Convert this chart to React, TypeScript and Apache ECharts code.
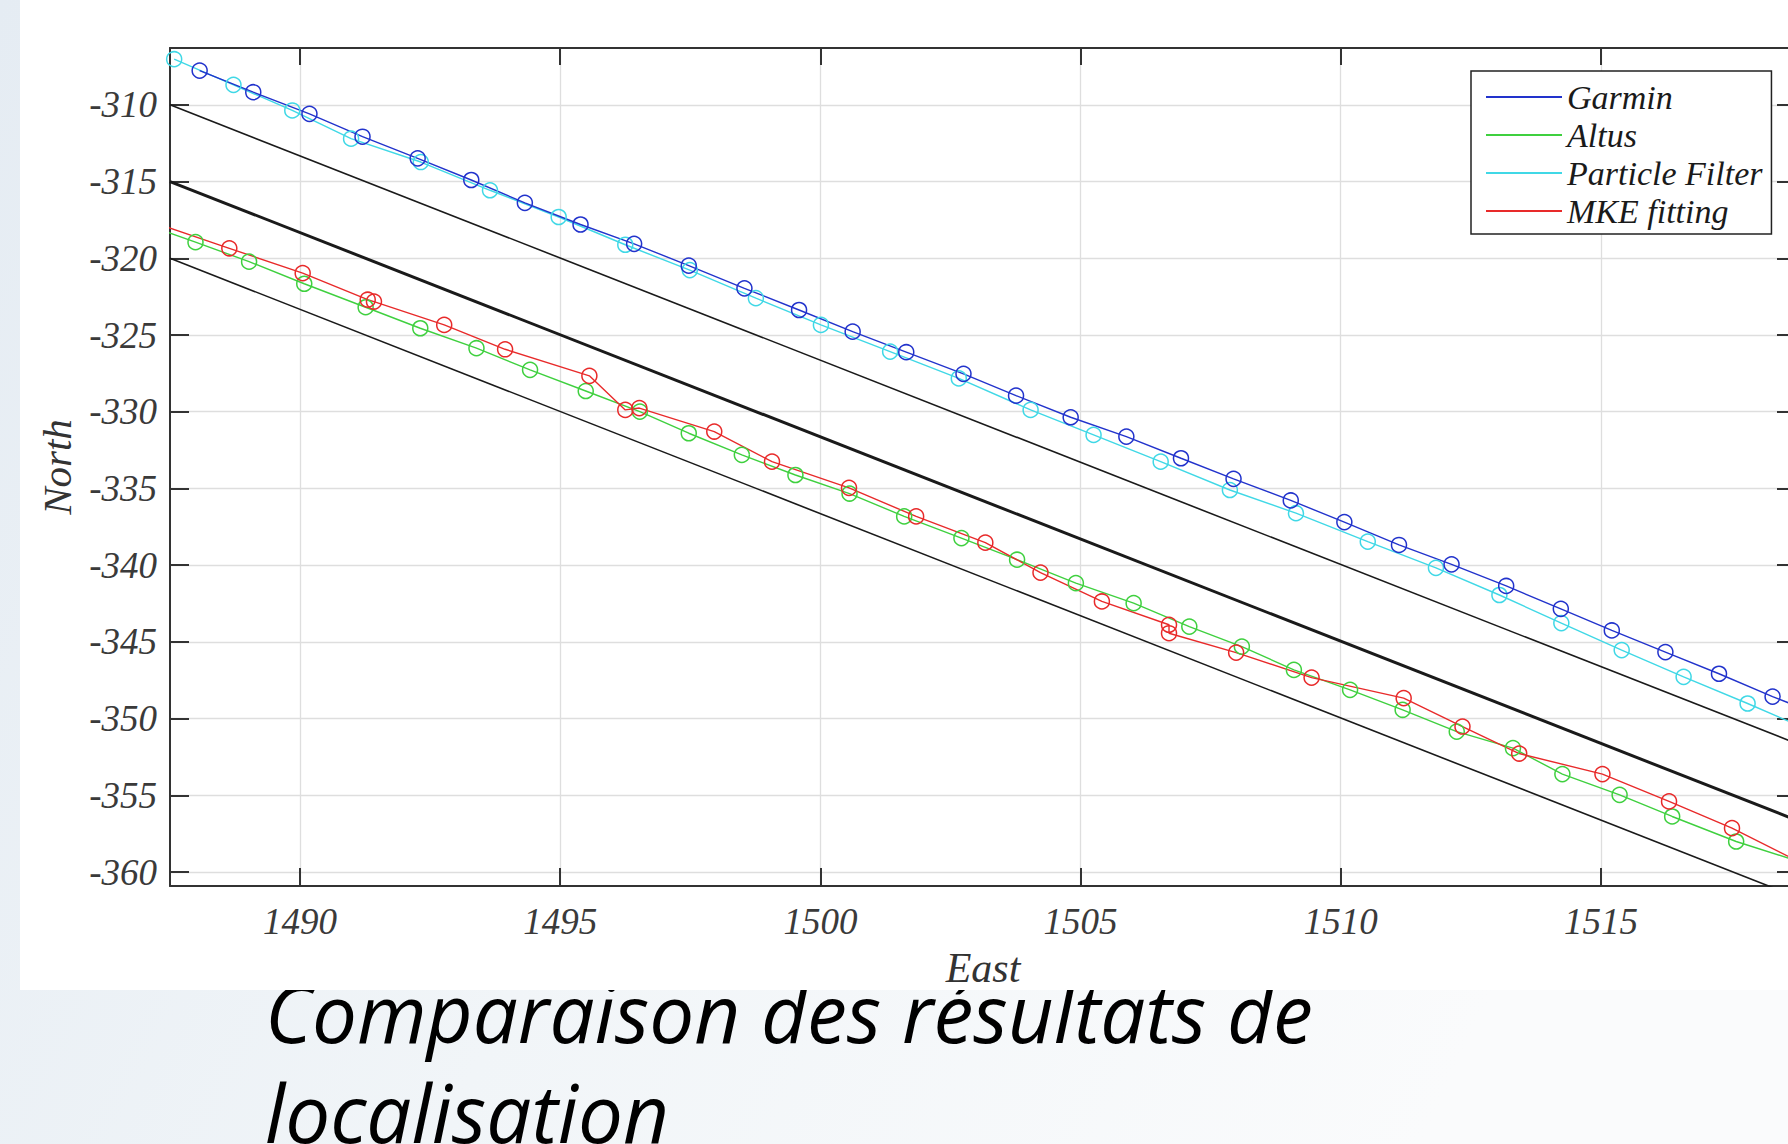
import { useEffect, useRef } from 'react';
import * as echarts from 'echarts';

// ---------- axis ticks / ranges ----------
const xTicks = [1490, 1495, 1500, 1505, 1510, 1515];
const yTicks = [-360, -355, -350, -345, -340, -335, -330, -325, -320, -315, -310];
const xMin = 1487.5;
const xMax = 1518.75;
const yMin = -360.9;
const yMax = -306.3;

// ---------- series (East / North) ----------
const garminEast = [1488.07, 1489.10, 1490.18, 1491.20, 1492.26, 1493.29, 1494.32, 1495.39, 1496.42, 1497.47, 1498.54, 1499.59, 1500.62, 1501.65, 1502.75, 1503.76, 1504.81, 1505.88, 1506.93, 1507.94, 1509.04, 1510.07, 1511.12, 1512.13, 1513.18, 1514.23, 1515.21, 1516.24, 1517.27, 1518.30, 1519.35];
const garminNorth = [-307.77, -309.18, -310.59, -312.08, -313.49, -314.90, -316.39, -317.80, -319.06, -320.48, -321.96, -323.37, -324.78, -326.12, -327.53, -328.95, -330.36, -331.62, -333.03, -334.37, -335.78, -337.19, -338.68, -339.94, -341.35, -342.84, -344.25, -345.66, -347.07, -348.56, -349.95];

const altusEast = [1486.95, 1487.99, 1489.02, 1490.08, 1491.26, 1492.31, 1493.39, 1494.42, 1495.49, 1496.53, 1497.47, 1498.49, 1499.52, 1500.56, 1501.61, 1502.71, 1503.78, 1504.91, 1506.02, 1507.09, 1508.10, 1509.10, 1510.18, 1511.19, 1512.23, 1513.31, 1514.26, 1515.36, 1516.37, 1517.60, 1518.85];
const altusNorth = [-317.69, -318.95, -320.22, -321.66, -323.19, -324.56, -325.86, -327.27, -328.65, -329.99, -331.40, -332.81, -334.12, -335.33, -336.82, -338.23, -339.64, -341.17, -342.47, -344.00, -345.30, -346.82, -348.12, -349.42, -350.84, -351.92, -353.61, -354.96, -356.37, -358.00, -359.35];

const pfEast = [1487.58, 1488.72, 1489.85, 1490.98, 1492.32, 1493.65, 1494.97, 1496.25, 1497.49, 1498.76, 1500.01, 1501.34, 1502.66, 1504.04, 1505.25, 1506.54, 1507.87, 1509.14, 1510.52, 1511.83, 1513.05, 1514.24, 1515.40, 1516.59, 1517.82, 1519.00];
const pfNorth = [-307.03, -308.70, -310.37, -312.21, -313.73, -315.57, -317.31, -319.12, -320.77, -322.60, -324.34, -326.08, -327.83, -329.88, -331.51, -333.25, -335.10, -336.61, -338.46, -340.17, -341.94, -343.77, -345.53, -347.27, -349.01, -350.75];

const mkeEast = [1487.30, 1488.64, 1490.05, 1491.30, 1491.42, 1492.77, 1493.94, 1495.56, 1496.25, 1496.52, 1497.96, 1499.07, 1500.55, 1501.84, 1503.17, 1504.23, 1505.41, 1506.70, 1506.70, 1507.99, 1509.44, 1511.21, 1512.34, 1513.43, 1515.03, 1516.31, 1517.52, 1518.85];
const mkeNorth = [-317.80, -319.35, -320.97, -322.70, -322.82, -324.34, -325.93, -327.66, -329.88, -329.76, -331.29, -333.25, -334.96, -336.82, -338.53, -340.48, -342.36, -343.88, -344.43, -345.69, -347.32, -348.66, -350.51, -352.27, -353.61, -355.39, -357.13, -359.40];

// reference lane lines (black)
const laneEast = [1487.5, 1518.75];
const laneUpperNorth = [-310.0, -351.6];
const laneCenterNorth = [-315.0, -356.6];
const laneLowerNorth = [-320.0, -361.6];

const seriesNames = ['Garmin', 'Altus', 'Particle Filter', 'MKE fitting'];
const seriesColors = ['#2233cc', '#3fd03f', '#40d8e6', '#e82a2a'];

const titleLines = ['Comparaison des résultats de', 'localisation'];

const SERIF = '"Liberation Serif", "Times New Roman", serif';
const SANS = '"Open Sans", "Noto Sans", sans-serif';

function fitFontSize(text: string, family: string, target: number): number {
  const ctx = document.createElement('canvas').getContext('2d');
  if (!ctx) return 80;
  ctx.font = `italic 100px ${family}`;
  const w = ctx.measureText(text).width;
  return w > 0 ? (100 * target) / w : 80;
}

const pairs = (e: number[], n: number[]) => e.map((v, i) => [v, n[i]]);

export default function App() {
  const ref = useRef<HTMLDivElement>(null);

  useEffect(() => {
    if (!ref.current) return;
    const chart = echarts.init(ref.current, null, { renderer: 'svg' });

    const titleSize = fitFontSize(titleLines[0], SANS, 1048);
    const central = 0.388 * titleSize;

    const labelStyle = {
      fontFamily: SERIF,
      fontStyle: 'italic',
      fontSize: 37,
      color: '#3a3a3a',
    };
    const axisLine = { show: true, lineStyle: { color: '#333', width: 2 } };
    const tickStyle = { color: '#333', width: 2 };

    const dataSeries = [
      { name: seriesNames[2], e: pfEast, n: pfNorth, c: seriesColors[2] },
      { name: seriesNames[0], e: garminEast, n: garminNorth, c: seriesColors[0] },
      { name: seriesNames[1], e: altusEast, n: altusNorth, c: seriesColors[1] },
      { name: seriesNames[3], e: mkeEast, n: mkeNorth, c: seriesColors[3] },
    ].map((s) => ({
      name: s.name,
      type: 'line',
      data: pairs(s.e, s.n),
      symbol: 'circle',
      symbolSize: 15,
      showSymbol: true,
      clip: true,
      lineStyle: { color: s.c, width: 1.4 },
      itemStyle: { color: 'rgba(0,0,0,0)', borderColor: s.c, borderWidth: 1.5 },
      emphasis: { disabled: true },
      silent: true,
      z: 3,
    }));

    const lanes = [
      { name: 'laneUpper', n: laneUpperNorth, w: 1.6 },
      { name: 'laneCenter', n: laneCenterNorth, w: 3 },
      { name: 'laneLower', n: laneLowerNorth, w: 1.6 },
    ].map((l) => ({
      name: l.name,
      type: 'line',
      data: pairs(laneEast, l.n),
      symbol: 'none',
      clip: true,
      lineStyle: { color: '#1a1a1a', width: l.w },
      emphasis: { disabled: true },
      silent: true,
      z: 2,
    }));

    chart.setOption({
      animation: false,
      textStyle: { fontFamily: SERIF },
      grid: {
        left: 170,
        top: 48,
        width: 1626,
        height: 838,
        containLabel: false,
        outerBoundsMode: 'none',
      },
      graphic: [
        {
          type: 'rect',
          z: -30,
          silent: true,
          shape: { x: 0, y: 0, width: 1800, height: 1144 },
          style: {
            fill: {
              type: 'linear',
              x: 0, y: 0, x2: 1, y2: 0.3,
              colorStops: [
                { offset: 0, color: '#e5ecf3' },
                { offset: 0.5, color: '#f1f5f8' },
                { offset: 1, color: '#fafbfc' },
              ],
            },
          },
        },
        {
          type: 'text',
          z: -20,
          silent: true,
          style: {
            text: titleLines[0],
            x: 265,
            y: 1043 - central,
            fontFamily: SANS,
            fontStyle: 'italic',
            fontSize: titleSize,
            fill: '#000',
            verticalAlign: 'middle',
          },
        },
        {
          type: 'text',
          z: -20,
          silent: true,
          style: {
            text: titleLines[1],
            x: 265,
            y: 1143 - central,
            fontFamily: SANS,
            fontStyle: 'italic',
            fontSize: titleSize,
            fill: '#000',
            verticalAlign: 'middle',
          },
        },
        {
          type: 'rect',
          z: -10,
          silent: true,
          shape: { x: 20, y: 0, width: 1780, height: 990 },
          style: { fill: '#ffffff' },
        },
      ],
      legend: {
        data: seriesNames.map((n, i) => ({
          name: n,
          icon: 'rect',
          itemStyle: { color: seriesColors[i], borderWidth: 0 },
        })),
        orient: 'vertical',
        left: 1471,
        top: 71,
        padding: [7, 9, 4, 15],
        itemWidth: 76,
        itemHeight: 2,
        itemGap: 0,
        selectedMode: false,
        backgroundColor: '#ffffff',
        borderColor: '#222',
        borderWidth: 1.5,
        borderRadius: 0,
        textStyle: {
          fontFamily: SERIF,
          fontStyle: 'italic',
          fontSize: 34,
          color: '#1a1a1a',
          lineHeight: 38,
        },
      },
      xAxis: [
        {
          type: 'value',
          min: xMin,
          max: xMax,
          position: 'bottom',
          name: 'East',
          nameLocation: 'middle',
          nameGap: 61,
          nameTextStyle: { fontFamily: SERIF, fontStyle: 'italic', fontSize: 42, color: '#333' },
          axisLine,
          axisTick: { show: true, inside: true, length: 18, lineStyle: tickStyle, customValues: xTicks },
          axisLabel: { ...labelStyle, margin: 17, customValues: xTicks, formatter: (v: number) => String(v) },
          splitLine: { show: true, lineStyle: { color: '#dedede', width: 1.3 } },
        },
        {
          type: 'value',
          min: xMin,
          max: xMax,
          position: 'top',
          axisLine,
          axisTick: { show: true, inside: true, length: 17, lineStyle: tickStyle, customValues: xTicks },
          axisLabel: { show: false, customValues: xTicks },
          splitLine: { show: false },
        },
      ],
      yAxis: [
        {
          type: 'value',
          min: yMin,
          max: yMax,
          position: 'left',
          name: 'North',
          nameLocation: 'middle',
          nameGap: 93,
          nameTextStyle: { fontFamily: SERIF, fontStyle: 'italic', fontSize: 41, color: '#333' },
          axisLine,
          axisTick: { show: true, inside: true, length: 19, lineStyle: tickStyle, customValues: yTicks },
          axisLabel: { ...labelStyle, margin: 13, customValues: yTicks, formatter: (v: number) => String(v) },
          splitLine: { show: true, lineStyle: { color: '#dedede', width: 1.3 } },
        },
        {
          type: 'value',
          min: yMin,
          max: yMax,
          position: 'right',
          axisLine,
          axisTick: { show: true, inside: true, length: 19, lineStyle: tickStyle, customValues: yTicks },
          axisLabel: { show: false, customValues: yTicks },
          splitLine: { show: false },
        },
      ],
      series: [...lanes, ...dataSeries],
    });

    return () => chart.dispose();
  }, []);

  return (
    <div
      style={{
        position: 'absolute',
        left: 0,
        top: 0,
        width: 1788,
        height: 1144,
        overflow: 'hidden',
      }}
    >
      <div ref={ref} style={{ width: 1800, height: 1144 }} />
    </div>
  );
}
